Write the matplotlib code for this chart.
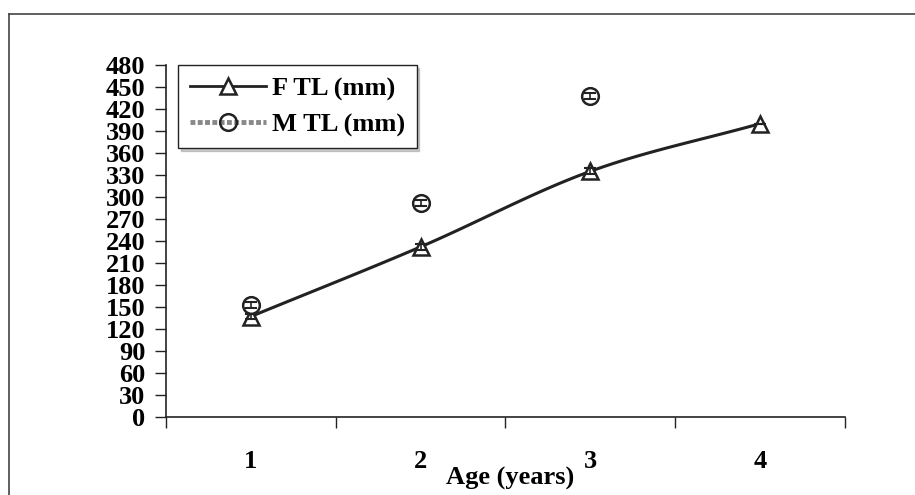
"""
Growth in total length by age, females and males.
"""

import numpy as np
import matplotlib.pyplot as plt
from matplotlib.lines import Line2D

ages = [1, 2, 3, 4]
f_tl = [137, 232, 335, 400]
f_err = [4, 4, 4, 0]
m_ages = [1, 2, 3]
m_tl = [153, 292, 438]
m_err = [4, 4, 4]
y_ticks = list(range(0, 481, 30))


def smooth(x, y, steps=30):
	"""Catmull-Rom curve through the points, like a smoothed spreadsheet line"""
	x = np.asarray(x, float)
	y = np.asarray(y, float)
	px = np.concatenate([[2 * x[0] - x[1]], x, [2 * x[-1] - x[-2]]])
	py = np.concatenate([[2 * y[0] - y[1]], y, [2 * y[-1] - y[-2]]])
	xs, ys = [], []
	t = np.linspace(0, 1, steps)
	for i in range(1, len(px) - 2):
		for p, out in ((px, xs), (py, ys)):
			p0, p1, p2, p3 = p[i - 1], p[i], p[i + 1], p[i + 2]
			out.extend(0.5 * (2 * p1 + (-p0 + p2) * t
				+ (2 * p0 - 5 * p1 + 4 * p2 - p3) * t ** 2
				+ (-p0 + 3 * p1 - 3 * p2 + p3) * t ** 3))
	return xs, ys


plt.rcParams['font.family'] = 'Liberation Serif'
plt.rcParams['font.weight'] = 'bold'
FS = 19

fig = plt.figure(figsize=(9.15, 4.95), dpi=100)
ax = fig.add_axes([0.1814, 0.1576, 0.742, 0.7111])

# outer frame (left and top edges visible)
fig.add_artist(Line2D([9 / 915, 9 / 915], [1 - 14 / 495, 0], color='#444444', lw=1.2))
fig.add_artist(Line2D([9 / 915, 1], [1 - 14 / 495, 1 - 14 / 495], color='#444444', lw=1.2))

sx, sy = smooth(ages, f_tl)
ax.plot(sx, sy, color='#222222', lw=2.2, zorder=2)
ax.plot(ages, f_tl, '^', ms=12, mfc='white', mec='#222222', mew=1.8, zorder=3)
ax.plot(m_ages, m_tl, 'o', ms=12, mfc='white', mec='#222222', mew=1.8, zorder=3)
ax.errorbar(ages, f_tl, yerr=f_err, fmt='none', ecolor='#222222',
	elinewidth=1.2, capsize=4, capthick=1.5, zorder=4)
ax.errorbar(m_ages, m_tl, yerr=m_err, fmt='none', ecolor='#222222',
	elinewidth=1.2, capsize=4, capthick=1.5, zorder=4)

ax.set_xlim(0.5, 4.5)
ax.set_ylim(0, 480)
ax.set_yticks(y_ticks)
ax.set_yticklabels([str(v) for v in y_ticks], fontsize=FS, fontweight='bold')
ax.set_xticks([0.5, 1.5, 2.5, 3.5, 4.5])
ax.set_xticklabels([])
ax.set_xticks(ages, minor=True)
ax.set_xticklabels([str(a) for a in ages], minor=True, fontsize=FS, fontweight='bold')
ax.tick_params(axis='x', which='major', direction='out', length=8, width=1, color='#222222')
ax.tick_params(axis='x', which='minor', length=0, pad=24)
ax.tick_params(axis='y', direction='out', length=8, width=1, color='#222222', pad=7)
for s in ('top', 'right'):
	ax.spines[s].set_visible(False)
for s in ('left', 'bottom'):
	ax.spines[s].set_color('#222222')
	ax.spines[s].set_linewidth(1.2)

fig.text(510 / 915, 1 - 478 / 495, 'Age (years)', ha='center', va='center',
	fontsize=FS, fontweight='bold')

handles = [
	Line2D([], [], color='#222222', lw=2, marker='^', ms=12, mfc='white', mec='#222222', mew=1.8),
	Line2D([], [], color='#888888', lw=3.5, ls=(0, (1, 0.5)), marker='o', ms=12,
		mfc='none', mec='#222222', mew=1.8),
]
leg = ax.legend(handles, ['F TL (mm)', 'M TL (mm)'], loc='upper left',
	bbox_to_anchor=(0.0177, 1.0), borderaxespad=0, prop={'size': FS, 'weight': 'bold'},
	frameon=True, fancybox=False, shadow={'color': '#999999'}, edgecolor='#222222',
	handlelength=2.9, handletextpad=0.2, borderpad=0.45, labelspacing=0.45)
leg.get_frame().set_linewidth(1)

fig.savefig('out.png', dpi=100)
